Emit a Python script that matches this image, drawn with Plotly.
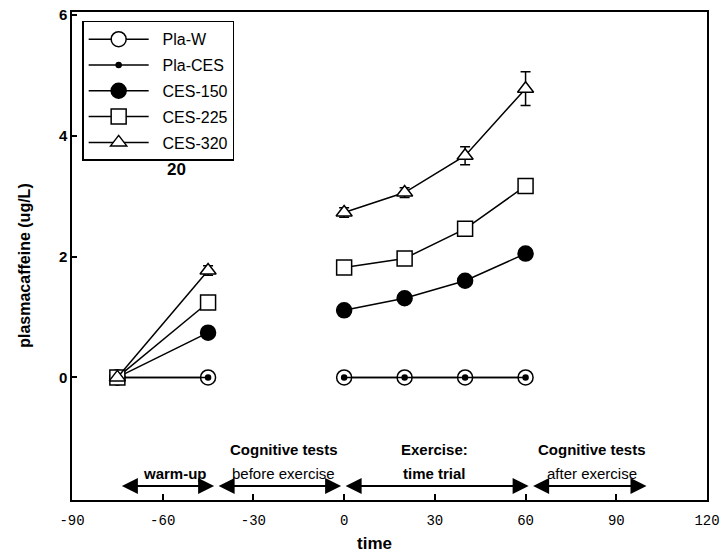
import plotly.graph_objects as go

# ---- data ----
time_pts = [-75, -45, None, 0, 20, 40, 60]
pla_w = [0, 0, None, 0, 0, 0, 0]
pla_ces = [0, 0, None, 0, 0, 0, 0]
ces_150 = [0, 0.74, None, 1.11, 1.31, 1.60, 2.05]
ces_225 = [0, 1.24, None, 1.82, 1.97, 2.46, 3.17]
ces_320 = [0, 1.77, None, 2.73, 3.06, 3.67, 4.78]
ces_320_err = [0, 0.08, None, 0.08, 0.08, 0.15, 0.28]

x_ticks = [-90, -60, -30, 0, 30, 60, 90, 120]
y_ticks = [0, 2, 4, 6]

phase_spans = [(-74, -43), (-42, -1), (0, 61), (62, 100)]
phase_labels = [
    (-56, None, "<b>warm-up</b>"),
    (-20, "<b>Cognitive tests</b>", "before exercise"),
    (30, "<b>Exercise:</b>", "<b>time trial</b>"),
    (82, "<b>Cognitive tests</b>", "after exercise"),
]

BLACK = "black"
fig = go.Figure()

def add(name, y, symbol, size, fill, err=None):
    kw = {}
    if err is not None:
        kw["error_y"] = dict(type="data", array=err, visible=True, color=BLACK,
                             thickness=1.5, width=5)
    fig.add_trace(go.Scatter(
        x=time_pts, y=y, name="&nbsp;&nbsp;" + name, mode="lines+markers",
        legendgroup=name,
        connectgaps=False,
        line=dict(color=BLACK, width=1.5),
        marker=dict(symbol=symbol, size=size, color=fill,
                    line=dict(color=BLACK, width=1.5)),
        **kw))

add("Pla-W", pla_w, "circle", 15, "white")
add("Pla-CES", pla_ces, "circle", 5, BLACK)
add("CES-150", ces_150, "circle", 15, BLACK)
add("CES-225", ces_225, "square", 15, "white")
add("CES-320", ces_320, "triangle-up", 14, "white", err=ces_320_err)

# phase arrows
for a, b in phase_spans:
    fig.add_annotation(x=b, y=-1.8, ax=a, ay=-1.8, xref="x", yref="y",
                       axref="x", ayref="y", text="", showarrow=True,
                       arrowhead=2, arrowside="end+start", arrowsize=1.6,
                       arrowwidth=2, arrowcolor=BLACK)

for xc, top, bottom in phase_labels:
    if top:
        fig.add_annotation(x=xc, y=-1.19, xref="x", yref="y", text=top,
                           showarrow=False,
                           font=dict(family="Liberation Sans", size=15, color=BLACK))
    fig.add_annotation(x=xc, y=-1.59, xref="x", yref="y", text=bottom,
                       showarrow=False,
                       font=dict(family="Liberation Sans", size=15, color=BLACK))

fig.add_annotation(x=-55.3, y=3.45, xref="x", yref="y", text="<b>20</b>",
                   showarrow=False,
                   font=dict(family="Liberation Sans", size=17, color=BLACK))

# axis titles
fig.add_annotation(x=0.476, y=-0.09, xref="paper", yref="paper",
                   text="<b>time</b>", showarrow=False, yanchor="middle",
                   font=dict(family="Liberation Sans", size=17, color=BLACK))
fig.add_annotation(x=-0.074, y=0.48, xref="paper", yref="paper",
                   text="<b>plasmacaffeine (ug/L)</b>", textangle=-90,
                   showarrow=False, xanchor="center", yanchor="middle",
                   font=dict(family="Liberation Sans", size=16, color=BLACK))

fig.update_xaxes(range=[-90, 120], tickvals=x_ticks,
                 ticktext=[str(v) for v in x_ticks],
                 automargin=False, ticklabelstandoff=6,
                 showline=True, linecolor=BLACK, linewidth=1.5, mirror=True,
                 ticks="inside", ticklen=6, tickwidth=1.5, tickcolor=BLACK,
                 showgrid=False, zeroline=False,
                 tickfont=dict(family="Liberation Mono", size=14, color=BLACK))
fig.update_yaxes(range=[-2.03, 6.05], tickvals=y_ticks, automargin=False,
                 showline=True, linecolor=BLACK, linewidth=1.5, mirror=True,
                 ticks="inside", ticklen=5, tickwidth=1.5, tickcolor=BLACK,
                 showgrid=False, zeroline=False,
                 tickfont=dict(family="Liberation Sans", size=15, color=BLACK,
                               weight="bold"))

fig.update_layout(
    width=722, height=558,
    margin=dict(l=72, r=15, t=12, b=58),
    paper_bgcolor="white", plot_bgcolor="white",
    showlegend=True,
    legend=dict(x=0.016, y=0.982, xanchor="left", yanchor="top",
                bgcolor="white", bordercolor=BLACK, borderwidth=1.5,
                itemwidth=60, tracegroupgap=2,
                font=dict(family="Liberation Sans", size=16, color=BLACK)),
)

fig.write_html("out.html")
